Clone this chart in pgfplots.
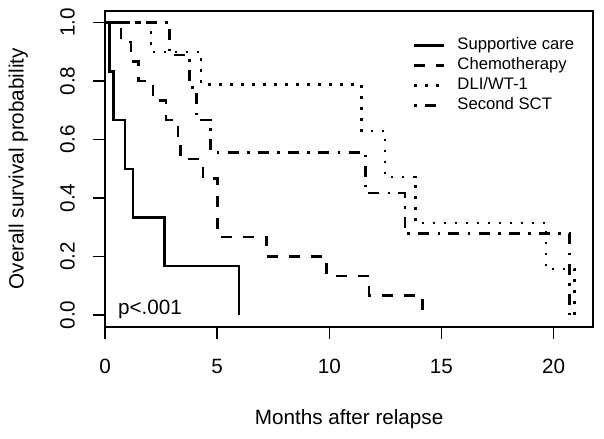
\documentclass[border=0pt]{standalone}
\usepackage{fontspec}
\setmainfont{Liberation Sans}
\usepackage{pgfplots}
\pgfplotsset{compat=1.18}
\begin{document}
\begin{tikzpicture}
\useasboundingbox (-78.75pt,-84.2pt) rectangle (374.25pt,245pt);
\begin{axis}[
  at={(0pt,0pt)}, anchor=south west,
  scale only axis, width=366.2pt, height=236.8pt,
  xmin=0, xmax=21.77, ymin=-0.04, ymax=1.04,
  axis line style={line width=1.5pt},
  xtick={0,5,10,15,20}, ytick={0,0.2,0.4,0.6,0.8,1.0},
  tick align=outside, xtick pos=bottom, ytick pos=left,
  major tick length=9pt,
  every tick/.style={black, line width=1pt},
  /pgf/number format/assume math mode=true,
  y tick label style={/pgf/number format/fixed, /pgf/number format/fixed zerofill, /pgf/number format/precision=1},
  tick label style={font=\fontsize{15.5}{15.5}\selectfont},
  x tick label style={anchor=center, yshift=-20.5pt},
  y tick label style={anchor=center, xshift=-19.1pt, rotate=90},
  xlabel={Months after relapse},
  ylabel={Overall survival probability},
  every axis x label/.style={at={(axis description cs:0.5,0)}, anchor=center, yshift=-69.5pt, font=\fontsize{15.5}{15.5}\selectfont},
  every axis y label/.style={at={(axis description cs:0,0.5)}, xshift=-65pt, rotate=90, anchor=center, font=\fontsize{15.5}{15.5}\selectfont},
  legend style={at={(rel axis cs:0.622,0.925)}, anchor=north west, draw=none, fill=none,
    font=\fontsize{12.5}{12.5}\selectfont, row sep=3pt, column sep=9pt,
    nodes={inner sep=0pt, text height=9pt, text depth=3pt}},
  legend cell align=left,
  legend image code/.code={\draw[#1] (0pt,0pt) -- (22.5pt,0pt);},
]
% Supportive care
\addplot[black, no markers, line width=1.9pt, line cap=butt, const plot, solid] coordinates {(0,1) (0.2,0.833) (0.38,0.667) (0.9,0.5) (1.24,0.333) (2.66,0.167) (5.97,0)};
\addlegendentry{Supportive care}
% Chemotherapy
\addplot[black, no markers, line width=1.9pt, line cap=butt, const plot, dash pattern=on 8.25pt off 8.25pt] coordinates {(0,1) (0.72,0.933) (1.15,0.867) (1.5,0.8) (2.13,0.733) (2.73,0.667) (3.25,0.6) (3.37,0.533) (4.37,0.467) (5.02,0.267) (7.2,0.2) (9.87,0.133) (11.78,0.067) (14.16,0)};
\addlegendentry{Chemotherapy}
% DLI/WT-1
\addplot[black, no markers, line width=1.9pt, line cap=butt, const plot, dash pattern=on 2pt off 6.25pt] coordinates {(0,1) (2.06,0.9) (4.29,0.7875) (11.44,0.63) (12.48,0.4725) (13.84,0.315) (19.66,0.1575) (20.93,0)};
\addlegendentry{DLI/WT-1}
% Second SCT
\addplot[black, no markers, line width=1.9pt, line cap=butt, const plot, dash pattern=on 2pt off 6.2pt on 8.25pt off 6.2pt] coordinates {(0,1) (2.88,0.889) (3.77,0.778) (4.07,0.667) (4.71,0.556) (11.62,0.417) (13.37,0.278) (20.71,0)};
\addlegendentry{Second SCT}
\node[anchor=base west, inner sep=0pt, font=\fontsize{15.5}{15.5}\selectfont] at (axis cs:0.57,0) {p<.001};
\end{axis}
\end{tikzpicture}
\end{document}
